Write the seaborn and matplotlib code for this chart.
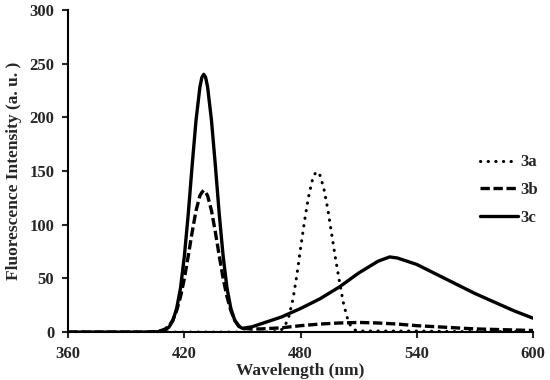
import pandas as pd
import matplotlib
matplotlib.use("Agg")
import matplotlib.pyplot as plt
import seaborn as sns

# emission spectra (wavelength in nm, intensity in a.u.)
wl_3a = [360, 400, 440, 462, 466, 468, 470, 472, 474, 476, 478, 480, 482, 484,
         486, 487, 488, 489, 490, 492, 494, 496, 498, 500, 502, 504, 506, 508,
         510, 520, 540, 560, 580, 600]
int_3a = [0, 0, 0, 0, 0.3, 0.8, 2, 6, 15, 30, 52, 78, 103, 125,
          141, 146, 149, 149, 146, 134, 115, 92, 69, 48, 28, 14, 5, 2,
          1, 1, 1, 0.5, 0.5, 0.5]

wl_3b = [360, 400, 404, 406, 408, 410, 412, 414, 416, 418, 420, 422, 424, 426,
         428, 429, 430, 431, 432, 434, 436, 438, 440, 442, 444, 446, 448, 450,
         454, 460, 470, 480, 490, 500, 510, 520, 530, 540, 550, 560, 570, 580,
         590, 600]
int_3b = [0, 0, 0.3, 0.7, 1.5, 2.8, 5.8, 11, 20, 33, 50, 71, 93, 113,
          127, 130, 132, 130, 127, 113, 93, 71, 50, 33, 20, 11, 6, 3.5,
          3, 3, 4, 6, 7.5, 8.5, 9, 8.5, 7.5, 6, 5, 4, 3, 2.5,
          2, 1.5]

wl_3c = [360, 400, 406, 408, 410, 412, 414, 416, 418, 420, 422, 424, 426, 428,
         429, 430, 431, 432, 434, 436, 438, 440, 442, 444, 446, 448, 450, 455,
         460, 470, 480, 490, 500, 510, 520, 526, 530, 540, 550, 560, 570, 580,
         590, 600]
int_3c = [0, 0, 0.3, 0.8, 1.8, 4.6, 10.5, 22, 41, 71, 110, 155, 197, 228,
          237, 240, 237, 228, 197, 155, 110, 71, 41, 22, 11, 5.5, 3.5, 5,
          8, 14, 22, 31, 42, 55, 66, 70, 69, 63, 54, 45, 36, 28,
          20, 13]

series = ["3a", "3b", "3c"]
styles = {"3a": (0, (0.1, 2.4)), "3b": (0, (2.8, 1.1)), "3c": "-"}
widths = {"3a": 2.2, "3b": 2.4, "3c": 2.4}

frames = []
for name, wl, vals in zip(series, [wl_3a, wl_3b, wl_3c], [int_3a, int_3b, int_3c]):
    frames.append(pd.DataFrame({"Wavelength": wl, "Intensity": vals, "Sample": name}))
df = pd.concat(frames, ignore_index=True)

sns.set_style("ticks")
plt.rcParams["font.family"] = ["Liberation Serif", "DejaVu Serif"]
plt.rcParams["font.weight"] = "bold"

fig = plt.figure(figsize=(5.5, 3.8), dpi=100)
ax = fig.add_axes([0.124, 0.126, 0.845, 0.848])

for name in series:
    sub = df[df["Sample"] == name]
    sns.lineplot(data=sub, x="Wavelength", y="Intensity", ax=ax, color="black",
                 linestyle=styles[name], linewidth=widths[name], label=name,
                 dash_capstyle="round" if name == "3a" else "butt")

ax.set_xlim(360, 600)
ax.set_ylim(0, 300)
ax.set_xticks([360, 420, 480, 540, 600])
ax.set_yticks(range(0, 301, 50))
ax.set_xlabel("Wavelength (nm)", fontsize=12.5, fontweight="bold", labelpad=1)
ax.set_ylabel("Fluorescence Intensity (a. u. )", fontsize=12.5, fontweight="bold", labelpad=5)
ax.tick_params(axis="both", direction="out", length=4, width=1.5, labelsize=12, pad=6)
for lbl in ax.get_xticklabels() + ax.get_yticklabels():
    lbl.set_fontweight("bold")

sns.despine(ax=ax)
for side in ["left", "bottom"]:
    ax.spines[side].set_linewidth(1.5)
    ax.spines[side].set_color("black")

leg = ax.legend(loc="center left", bbox_to_anchor=(0.886, 0.441), frameon=False,
                fontsize=12, handlelength=2.3, handletextpad=0.15, labelspacing=0.7,
                borderpad=0, borderaxespad=0)
for txt in leg.get_texts():
    txt.set_fontweight("bold")

fig.savefig("out.png", dpi=100)
